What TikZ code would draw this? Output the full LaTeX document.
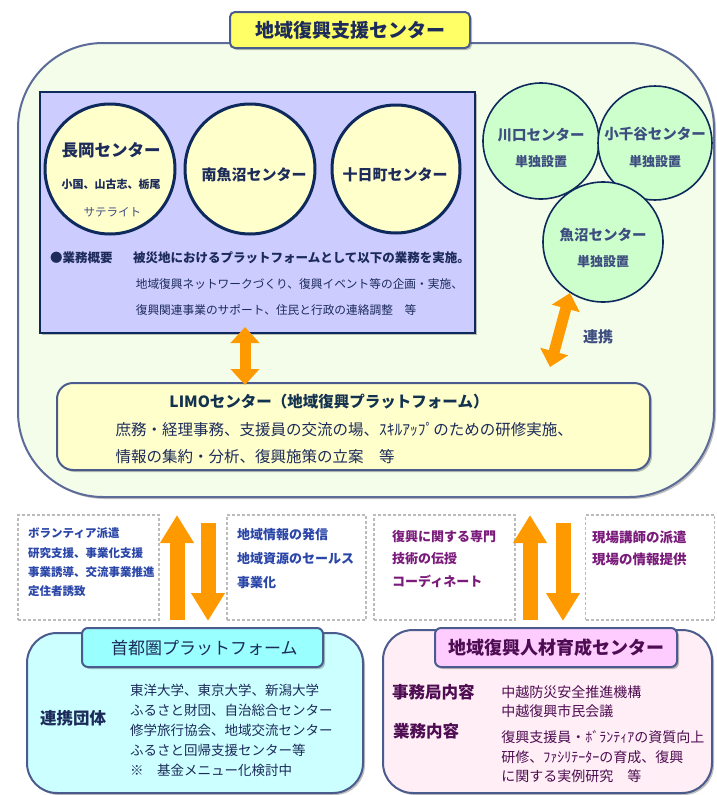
\documentclass[tikz,border=0pt]{standalone}
\usepackage{fontspec}
\setmainfont{Noto Sans CJK JP}
\usetikzlibrary{arrows.meta,shadows}
\definecolor{navy}{HTML}{1C2B5A}
\definecolor{ring}{HTML}{0E2A5C}
\definecolor{edge}{HTML}{4B5B8E}
\definecolor{outerfill}{HTML}{F3FDE9}
\definecolor{lav}{HTML}{CCCCFF}
\definecolor{creme}{HTML}{FFFFCC}
\definecolor{mint}{HTML}{CCFFCC}
\definecolor{slate}{HTML}{3E4D80}
\definecolor{orangearr}{HTML}{FF9900}
\definecolor{ttlyellow}{HTML}{FFFF66}
\definecolor{cyanfill}{HTML}{CCFFFF}
\definecolor{cyantitle}{HTML}{99FFFF}
\definecolor{pinkfill}{HTML}{FFEEF5}
\definecolor{pinktitle}{HTML}{FFCCFF}
\definecolor{purp}{HTML}{4E0C52}
\definecolor{blu}{HTML}{2A46A8}
\definecolor{purptxt}{HTML}{7A1A7A}
\definecolor{teal}{HTML}{12324F}
\definecolor{dashgray}{HTML}{BBBBBB}
\newcommand{\fsz}[1]{\fontsize{#1}{#1}\selectfont}
\tikzset{
  shad/.style={drop shadow={shadow xshift=2pt,shadow yshift=-2pt,opacity=0.35,fill=black!70}},
  boxframe/.style={draw=edge,line width=2pt,inner sep=0pt},
  ringc/.style={circle,draw=ring,line width=3pt,fill=creme,inner sep=0pt},
  gringc/.style={circle,draw=ring,line width=1.6pt,fill=mint,inner sep=0pt},
  dbox/.style={draw=dashgray,line width=1.8pt,dash pattern=on 3pt off 2pt,inner sep=0pt},
  lt/.style={anchor=west,inner sep=0pt},
  ct/.style={anchor=center,inner sep=0pt},
  bigarrow/.style={orangearr,line width=15pt,-{Triangle[width=32pt,length=28pt]}},
  dblarrow/.style={orangearr,line width=11pt,{Triangle[width=28pt,length=16pt]}-{Triangle[width=28pt,length=16pt]}},
}
\begin{document}
\begin{tikzpicture}[x=1pt,y=-1pt]
\useasboundingbox (0,0) rectangle (716,795);
\fill[white] (0,0) rectangle (716,795);

% outer container
\node[boxframe,draw=edge!90,fill=outerfill,rounded corners=85pt,minimum width=696pt,minimum height=454pt,shad] (outer) at (366,270) {};
\node[boxframe,fill=ttlyellow,rounded corners=5pt,minimum width=240pt,minimum height=36pt,shad] (title) at (350,30) {};
\node[ct,text=navy] (titletxt) at (title.center) {\fsz{19}\bfseries 地域復興支援センター};

% lavender box
\node[draw=ring,line width=1.6pt,fill=lav,inner sep=0pt,minimum width=435pt,minimum height=241pt,shad] (lav) at (257.5,212.5) {};

\node[ringc,minimum size=130pt] (nagaoka) at (110,169) {};
\node[ringc,minimum size=130pt] (minami) at (250,169) {};
\node[ringc,minimum size=128pt] (tooka) at (396,169) {};
\node[ct,text=navy] (nag1) at (111,150) {\fsz{16.5}\bfseries 長岡センター};
\node[ct,text=navy] (nag2) at (111,184) {\fsz{11}\bfseries 小国、山古志、栃尾};
\node[ct,text=slate] (nag3) at (111,212) {\fsz{11.5} サテライト};
\node[ct,text=navy] (mina1) at (254,175) {\fsz{15}\bfseries 南魚沼センター};
\node[ct,text=navy] (took1) at (395,175) {\fsz{15}\bfseries 十日町センター};

\node[lt,text=navy] (gyomu) at (50,258) {\fsz{12.5}\bfseries ●業務概要};
\node[lt,text=navy] (gyomu1) at (133,258) {\fsz{12.5}\bfseries 被災地におけるプラットフォームとして以下の業務を実施。};
\node[lt,text=navy] (gyomu2) at (133,284) {\fsz{11.7} 地域復興ネットワークづくり、復興イベント等の企画・実施、};
\node[lt,text=navy] (gyomu3) at (133,310) {\fsz{11.7} 復興関連事業のサポート、住民と行政の連絡調整　等};

% green circles
\node[gringc,minimum size=116pt] (kawa) at (541,141) {};
\node[gringc,minimum size=114pt] (ojiya) at (655,143) {};
\node[gringc,minimum size=120pt] (uonuma) at (603,242) {};
\node[ct,text=slate] (kawa1) at (541,135) {\fsz{14.5}\bfseries 川口センター};
\node[ct,text=slate] (kawa2) at (541,162) {\fsz{13}\bfseries 単独設置};
\node[ct,text=slate] (oji1) at (655,134) {\fsz{14.5}\bfseries 小千谷センター};
\node[ct,text=slate] (oji2) at (655,162) {\fsz{13}\bfseries 単独設置};
\node[ct,text=slate] (uon1) at (603,235) {\fsz{14.5}\bfseries 魚沼センター};
\node[ct,text=slate] (uon2) at (603,262) {\fsz{13}\bfseries 単独設置};

% LIMO box
\node[boxframe,fill=creme,rounded corners=16pt,minimum width=593pt,minimum height=87pt,shad] (limo) at (353.5,426.5) {};
\node[ct,text=teal] (limo1) at (329,402) {\fsz{15.5}\bfseries LIMOセンター（地域復興プラットフォーム）};
\node[lt,text=navy] (limo2) at (112,430) {\fsz{15.5} 庶務・経理事務、支援員の交流の場、ｽｷﾙｱｯﾌﾟのための研修実施、};
\node[lt,text=navy] (limo3) at (112,457) {\fsz{15.5} 情報の集約・分析、復興施策の立案　等};

% arrows inside container
\coordinate (lavbot) at (245,327);
\coordinate (limotop) at (245,385);
\draw[dblarrow] (lavbot) -- (limotop);
\coordinate (uonbot) at (570,293);
\coordinate (limoright) at (550,367);
\draw[dblarrow] (uonbot) -- (limoright);
\node[ct,text=slate] (renkei) at (598,337) {\fsz{15}\bfseries 連携};

% dashed boxes
\node[dbox,minimum width=141pt,minimum height=105pt] (b1) at (88.5,567.5) {};
\node[dbox,minimum width=139pt,minimum height=105pt] (b2) at (296.5,567.5) {};
\node[dbox,minimum width=141pt,minimum height=105pt] (b3) at (444.5,567.5) {};
\node[dbox,minimum width=129pt,minimum height=105pt] (b4) at (650,567.5) {};

\node[lt,text=blu] (b1a) at (28,533) {\fsz{11.5}\bfseries ボランティア派遣};
\node[lt,text=blu] (b1b) at (28,553) {\fsz{11.5}\bfseries 研究支援、事業化支援};
\node[lt,text=blu] (b1c) at (28,572) {\fsz{11.5}\bfseries 事業誘導、交流事業推進};
\node[lt,text=blu] (b1d) at (28,591) {\fsz{11.5}\bfseries 定住者誘致};
\node[lt,text=blu] (b2a) at (237,535) {\fsz{13}\bfseries 地域情報の発信};
\node[lt,text=blu] (b2b) at (237,559) {\fsz{13}\bfseries 地域資源のセールス};
\node[lt,text=blu] (b2c) at (237,583) {\fsz{13}\bfseries 事業化};
\node[lt,text=purptxt] (b3a) at (392,537) {\fsz{13}\bfseries 復興に関する専門};
\node[lt,text=purptxt] (b3b) at (392,559) {\fsz{13}\bfseries 技術の伝授};
\node[lt,text=purptxt] (b3c) at (392,581) {\fsz{13}\bfseries コーディネート};
\node[lt,text=purptxt] (b4a) at (592,537) {\fsz{13.5}\bfseries 現場講師の派遣};
\node[lt,text=purptxt] (b4b) at (592,559) {\fsz{13.5}\bfseries 現場の情報提供};

% big arrows
\coordinate (lup0) at (177,620);
\coordinate (lup1) at (177,515);
\coordinate (ldn0) at (208,523);
\coordinate (ldn1) at (208,621);
\coordinate (rup0) at (530,620);
\coordinate (rup1) at (530,515);
\coordinate (rdn0) at (563,523);
\coordinate (rdn1) at (563,621);
\draw[bigarrow] (lup0) -- (lup1);
\draw[bigarrow] (ldn0) -- (ldn1);
\draw[bigarrow] (rup0) -- (rup1);
\draw[bigarrow] (rdn0) -- (rdn1);

% bottom-left box
\node[boxframe,fill=cyanfill,rounded corners=30pt,minimum width=336pt,minimum height=160pt,shad] (shuto) at (195,713) {};
\node[boxframe,fill=cyantitle,rounded corners=6pt,minimum width=241pt,minimum height=39pt,shad] (shutotitle) at (202.5,647.5) {};
\node[ct,text=navy] (shutotxt) at (shutotitle.center) {\fsz{17} 首都圏プラットフォーム};
\node[lt,text=navy] (renkeidan) at (40,718) {\fsz{16.5}\bfseries 連携団体};
\node[lt,text=navy] (s1) at (127,690) {\fsz{13.5} 東洋大学、東京大学、新潟大学};
\node[lt,text=navy] (s2) at (127,710) {\fsz{13.5} ふるさと財団、自治総合センター};
\node[lt,text=navy] (s3) at (127,730) {\fsz{13.5} 修学旅行協会、地域交流センター};
\node[lt,text=navy] (s4) at (127,750) {\fsz{13.5} ふるさと回帰支援センター等};
\node[lt,text=navy] (s5) at (127,770) {\fsz{13.5} ※　基金メニュー化検討中};

% bottom-right box
\node[boxframe,fill=pinkfill,rounded corners=30pt,minimum width=329pt,minimum height=163pt,shad] (jinzai) at (547.5,711.5) {};
\node[boxframe,fill=pinktitle,rounded corners=6pt,minimum width=242pt,minimum height=39pt,shad] (jinzaititle) at (556,647.5) {};
\node[ct,text=purp] (jinzaitxt) at (jinzaititle.center) {\fsz{18}\bfseries 地域復興人材育成センター};
\node[lt,text=purp] (jim) at (392,692) {\fsz{16.5}\bfseries 事務局内容};
\node[lt,text=purp] (jim1) at (498,692) {\fsz{14} 中越防災安全推進機構};
\node[lt,text=purp] (jim2) at (498,711) {\fsz{14} 中越復興市民会議};
\node[lt,text=purp] (gyo) at (393,731) {\fsz{16.5}\bfseries 業務内容};
\node[lt,text=purp] (gyo1) at (498,737) {\fsz{14} 復興支援員・ﾎﾞﾗﾝﾃｨｱの資質向上};
\node[lt,text=purp] (gyo2) at (498,757) {\fsz{14} 研修、ﾌｧｼﾘﾃｰﾀｰの育成、復興};
\node[lt,text=purp] (gyo3) at (498,776) {\fsz{14} に関する実例研究　等};
\end{tikzpicture}
\end{document}
